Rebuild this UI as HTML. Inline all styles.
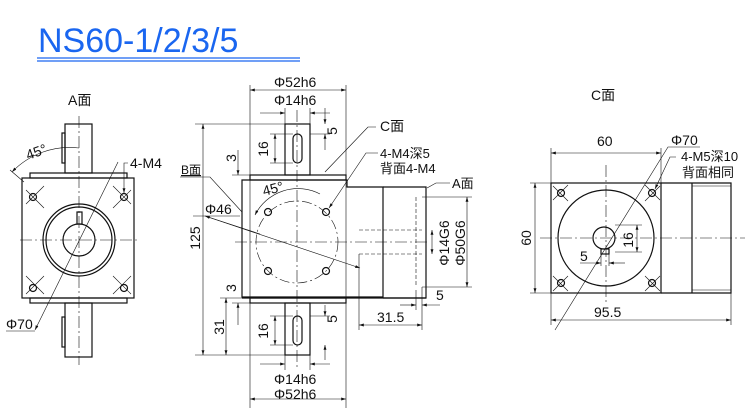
<!DOCTYPE html>
<html><head><meta charset="utf-8"><style>
body{margin:0;background:#fff;width:750px;height:420px;overflow:hidden}
svg{display:block}
text{font-family:"Liberation Sans","Noto Sans CJK SC",sans-serif;font-size:14px;fill:#111}
.t{font-size:34px;fill:#1a66f0}
</style></head><body>
<svg width="750" height="420" viewBox="0 0 750 420" xmlns="http://www.w3.org/2000/svg">
<defs>
<marker id="a" viewBox="0 0 10 6" refX="10" refY="3" markerWidth="8" markerHeight="5" orient="auto-start-reverse"><path d="M0,0L10,3L0,6z" fill="#111"/></marker>
</defs>
<text class="t" x="38" y="52">NS60-1/2/3/5</text>
<line x1="37" y1="58" x2="300" y2="58" stroke="#1a66f0" stroke-width="1.2"/>
<line x1="37" y1="61" x2="300" y2="61" stroke="#1a66f0" stroke-width="1.2"/>

<g stroke="#111" stroke-width="1.2" fill="none">
<rect x="65" y="124" width="27" height="49"/><rect x="62" y="133" width="3" height="30"/>
<rect x="30" y="173" width="97" height="5"/>
<rect x="22" y="178" width="112" height="120"/>
<rect x="30" y="298" width="97" height="5"/>
<rect x="65" y="303" width="27" height="54"/><rect x="62" y="317" width="3" height="30"/>
<circle cx="79" cy="240" r="36"/><circle cx="79" cy="240" r="33"/><circle cx="79" cy="240" r="16"/>
<rect x="77" y="212" width="5" height="12"/>
<circle cx="33" cy="197" r="3.5"/><circle cx="124" cy="197" r="3.5"/><circle cx="33" cy="288" r="3.5"/><circle cx="124" cy="288" r="3.5"/>
</g>
<g stroke="#111" stroke-width="0.6" fill="none">
<line x1="20" y1="240" x2="140" y2="240" stroke-dasharray="12,3,2,3"/>
<line x1="79" y1="116" x2="79" y2="365" stroke-dasharray="12,3,2,3"/>
<path d="M26,190L44,208M44,186L26,204M113,208L131,190M113,186L131,204M26,276L44,294M44,276L26,294M113,276L131,294M131,276L113,294"/>
<line x1="35" y1="330" x2="118" y2="162" marker-start="url(#a)"/>
<line x1="6" y1="331" x2="35" y2="331"/>
<path d="M12,172A80,80 0 0 1 79,148" marker-start="url(#a)"/>
<line x1="10" y1="170" x2="24" y2="182"/>
<path d="M128,163L124,163L124,193" marker-end="url(#a)"/>
</g>
<text x="68" y="105">A面</text>
<text x="28" y="160" transform="rotate(-20 28 160)">45°</text>
<text x="130" y="168">4-M4</text>
<text x="6" y="329">Φ70</text>

<g stroke="#111" stroke-width="1.2" fill="none">
<rect x="285" y="124" width="25" height="51"/><rect x="293" y="134" width="9" height="29" rx="4.5"/>
<rect x="250" y="175" width="96" height="5"/>
<path d="M242,180H347V187H383V297H242Z"/>
<path d="M383,187H426V298H383"/>
<line x1="242" y1="298" x2="426" y2="298"/>
<rect x="250" y="298" width="96" height="5"/>
<rect x="285" y="303" width="25" height="52"/><rect x="293" y="316" width="9" height="29" rx="4.5"/>
<circle cx="268" cy="212" r="3.5"/><circle cx="326" cy="212" r="3.5"/><circle cx="268" cy="271" r="3.5"/><circle cx="326" cy="271" r="3.5"/>
</g>
<g stroke="#111" stroke-width="0.6" fill="none">
<circle cx="297" cy="242" r="41" stroke-dasharray="10,3,2,3"/>
<path d="M416,197V287M359,230H422M359,254H422" stroke-dasharray="4,2"/>
<line x1="235" y1="242" x2="430" y2="242" stroke-dasharray="12,3,2,3"/>
<line x1="297" y1="110" x2="297" y2="368" stroke-dasharray="12,3,2,3"/>
<path d="M250,85V408M346,85V408M285,108V124M310,108V124M285,355V370M310,355V370"/>
<line x1="250" y1="90" x2="346" y2="90" marker-start="url(#a)" marker-end="url(#a)"/>
<line x1="260" y1="113" x2="285" y2="113" marker-end="url(#a)"/><line x1="330" y1="113" x2="310" y2="113" marker-end="url(#a)"/>
<line x1="260" y1="364" x2="285" y2="364" marker-end="url(#a)"/><line x1="330" y1="364" x2="310" y2="364" marker-end="url(#a)"/>
<line x1="250" y1="399" x2="346" y2="399" marker-start="url(#a)" marker-end="url(#a)"/>
<line x1="325" y1="108" x2="325" y2="124" marker-end="url(#a)"/><line x1="325" y1="150" x2="325" y2="134" marker-end="url(#a)"/>
<line x1="325" y1="305" x2="325" y2="316" marker-end="url(#a)"/><line x1="325" y1="360" x2="325" y2="345" marker-end="url(#a)"/>
<path d="M310,134H330M310,316H330M270,134H293M270,163H293M270,316H293M270,345H293"/>
<line x1="275" y1="134" x2="275" y2="163" marker-start="url(#a)" marker-end="url(#a)"/>
<line x1="275" y1="316" x2="275" y2="345" marker-start="url(#a)" marker-end="url(#a)"/>
<path d="M195,124H285M195,355H285M232,175H250M232,303H250M220,298H242"/>
<line x1="203" y1="124" x2="203" y2="355" marker-start="url(#a)" marker-end="url(#a)"/>
<line x1="238" y1="150" x2="238" y2="175" marker-end="url(#a)"/>
<line x1="238" y1="325" x2="238" y2="303" marker-end="url(#a)"/>
<line x1="226" y1="298" x2="226" y2="355" marker-start="url(#a)" marker-end="url(#a)"/>
<path d="M180,177H210L242,212"/>
<line x1="205" y1="216" x2="360" y2="268" marker-end="url(#a)"/>
<line x1="205" y1="216" x2="260" y2="234" marker-start="url(#a)"/>
<path d="M193,216H240"/>
<path d="M255,215A48,48 0 0 1 320,194" marker-start="url(#a)"/>
<path d="M376,127H368L325,172"/>
<path d="M378,153H366L329,208" marker-end="url(#a)"/>
<path d="M450,183H436L427,188"/>
<path d="M422,197H472M422,287H472"/>
<line x1="432" y1="230" x2="432" y2="254" marker-start="url(#a)" marker-end="url(#a)"/>
<line x1="467" y1="197" x2="467" y2="287" marker-start="url(#a)" marker-end="url(#a)"/>
<path d="M359,254V330M422,287V330M416,290V310"/>
<line x1="400" y1="305" x2="416" y2="305" marker-end="url(#a)"/><line x1="440" y1="305" x2="422" y2="305" marker-end="url(#a)"/>
<line x1="359" y1="325" x2="422" y2="325" marker-start="url(#a)" marker-end="url(#a)"/>
</g>
<text x="274" y="87">Φ52h6</text>
<text x="274" y="105">Φ14h6</text>
<text x="274" y="384">Φ14h6</text>
<text x="274" y="399">Φ52h6</text>
<text x="337" y="131" transform="rotate(-90 337 131)" text-anchor="middle">5</text>
<text x="337" y="319" transform="rotate(-90 337 319)" text-anchor="middle">5</text>
<text x="268" y="149" transform="rotate(-90 268 149)" text-anchor="middle">16</text>
<text x="268" y="331" transform="rotate(-90 268 331)" text-anchor="middle">16</text>
<text x="236" y="158" transform="rotate(-90 236 158)" text-anchor="middle">3</text>
<text x="236" y="288" transform="rotate(-90 236 288)" text-anchor="middle">3</text>
<text x="200" y="238" transform="rotate(-90 200 238)" text-anchor="middle">125</text>
<text x="224" y="327" transform="rotate(-90 224 327)" text-anchor="middle">31</text>
<text x="181" y="174" style="font-size:12px;text-decoration:underline">B面</text>
<text x="205" y="214">Φ46</text>
<text x="264" y="196" transform="rotate(-15 264 196)">45°</text>
<text x="380" y="131">C面</text>
<text x="380" y="158" style="font-size:13px">4-M4深5</text>
<text x="380" y="173" style="font-size:13px">背面4-M4</text>
<text x="452" y="188" style="font-size:13px">A面</text>
<text x="449" y="243" transform="rotate(-90 449 243)" text-anchor="middle">Φ14G6</text>
<text x="465" y="243" transform="rotate(-90 465 243)" text-anchor="middle">Φ50G6</text>
<text x="436" y="300">5</text>
<text x="377" y="322">31.5</text>

<g stroke="#111" stroke-width="1.2" fill="none">
<rect x="551" y="183" width="110" height="110"/>
<path d="M661,183H731V293H661M692,183V293"/>
<circle cx="606" cy="238" r="48"/><circle cx="604" cy="238" r="11"/>
<rect x="601" y="249" width="8" height="5"/>
<circle cx="561" cy="193" r="3.5"/><circle cx="652" cy="193" r="3.5"/><circle cx="561" cy="283" r="3.5"/><circle cx="652" cy="283" r="3.5"/>
</g>
<g stroke="#111" stroke-width="0.6" fill="none">
<line x1="540" y1="238" x2="745" y2="238" stroke-dasharray="12,3,2,3"/>
<line x1="606" y1="165" x2="606" y2="305" stroke-dasharray="12,3,2,3"/>
<path d="M692,186H731M692,290H731"/>
<path d="M553,186L568,201M568,185L553,200M645,201L660,186M645,185L660,200M553,276L568,291M568,276L553,291M645,291L660,276M645,276L660,291"/>
<path d="M551,148V325M661,148V183M731,293V325M530,183H551M530,293H551"/>
<line x1="551" y1="153" x2="661" y2="153" marker-start="url(#a)" marker-end="url(#a)"/>
<line x1="535" y1="183" x2="535" y2="293" marker-start="url(#a)" marker-end="url(#a)"/>
<line x1="551" y1="320" x2="731" y2="320" marker-start="url(#a)" marker-end="url(#a)"/>
<path d="M700,147H668L555,330"/>
<path d="M676,157H670L655,189" marker-end="url(#a)"/>
<path d="M615,225H642M615,252H642"/>
<line x1="637" y1="225" x2="637" y2="252" marker-start="url(#a)" marker-end="url(#a)"/>
<path d="M601,254V266M609,254V266"/>
<line x1="580" y1="263" x2="601" y2="263" marker-end="url(#a)"/><line x1="625" y1="263" x2="609" y2="263" marker-end="url(#a)"/>
</g>
<text x="591" y="100">C面</text>
<text x="597" y="146">60</text>
<text x="531" y="238" transform="rotate(-90 531 238)" text-anchor="middle">60</text>
<text x="594" y="317">95.5</text>
<text x="671" y="145">Φ70</text>
<text x="681" y="161" style="font-size:13px">4-M5深10</text>
<text x="682" y="177" style="font-size:13px">背面相同</text>
<text x="633" y="240" transform="rotate(-90 633 240)" text-anchor="middle">16</text>
<text x="580" y="261">5</text>
</svg>
</body></html>
